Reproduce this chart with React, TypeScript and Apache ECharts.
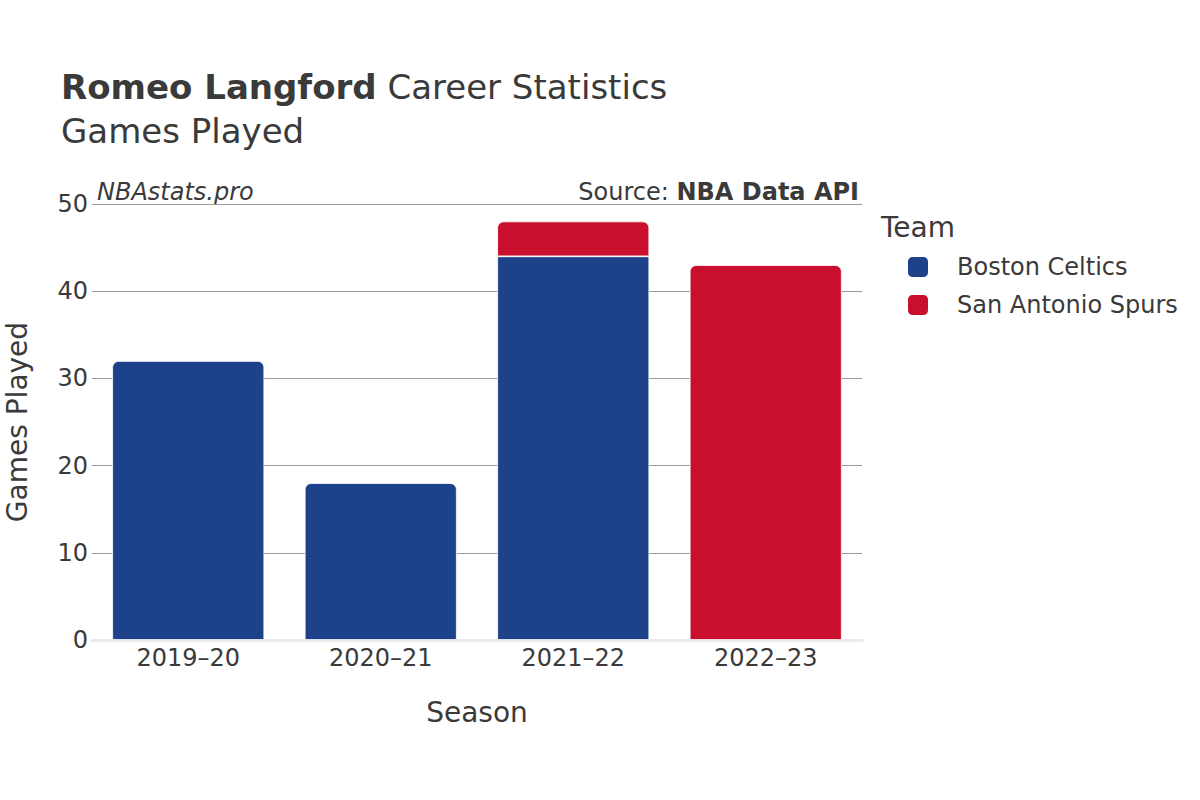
import React, { useEffect, useRef } from "react";
import * as echarts from "echarts";

const seasons = ["2019–20", "2020–21", "2021–22", "2022–23"];
const celtics = [32, 18, 44, null];
const spurs = [null, null, 4, 43];
const yTicks = [0, 10, 20, 30, 40, 50];

const FONT = "DejaVu Sans";
const TXT = "#3a3a3a";

export default function App() {
  const ref = useRef<HTMLDivElement>(null);
  useEffect(() => {
    const chart = echarts.init(ref.current!, undefined, { renderer: "svg" });
    const topIdx = seasons.map((_, i) => (spurs[i] != null ? "spurs" : "celtics"));
    const mk = (vals: (number | null)[], key: string) =>
      vals.map((v, i) =>
        v == null
          ? null
          : {
              value: v,
              itemStyle: { borderRadius: topIdx[i] === key ? [6, 6, 0, 0] : 0 },
            }
      );
    chart.setOption({
      animation: false,
      textStyle: { fontFamily: FONT },
      grid: { left: 92, right: 338, top: 204, bottom: 160, containLabel: false, outerBoundsMode: "none" },
      graphic: [
        {
          type: "text",
          left: 61,
          top: 70,
          style: {
            text: "{b|Romeo Langford}{n| Career Statistics}",
            rich: {
              b: { fontFamily: FONT, fontSize: 34, fontWeight: "bold", fill: TXT },
              n: { fontFamily: FONT, fontSize: 34, fill: TXT },
            },
          },
        },
        {
          type: "text",
          left: 61,
          top: 114,
          style: { text: "Games Played", fontFamily: FONT, fontSize: 34, fill: TXT },
        },
        {
          type: "text",
          left: 97,
          top: 180,
          style: { text: "NBAstats.pro", fontFamily: FONT, fontSize: 24, fontStyle: "italic", fill: TXT },
        },
        {
          type: "text",
          right: 1200 - 859,
          top: 180,
          style: {
            text: "{n|Source: }{b|NBA Data API}",
            rich: {
              n: { fontFamily: FONT, fontSize: 24, fill: TXT },
              b: { fontFamily: FONT, fontSize: 24, fontWeight: "bold", fill: TXT },
            },
          },
        },
        {
          type: "text",
          left: 881,
          top: 213,
          style: { text: "Team", fontFamily: FONT, fontSize: 28, fill: TXT },
        },
      ],
      legend: {
        left: 906,
        top: 255,
        padding: 0,
        orient: "vertical",
        itemWidth: 22,
        itemHeight: 22,
        itemGap: 14,
        icon: "roundRect",
        textStyle: { fontFamily: FONT, fontSize: 24, lineHeight: 22, color: TXT, padding: [0, 0, 0, 23] },
        data: ["Boston Celtics", "San Antonio Spurs"],
      },
      xAxis: {
        type: "category",
        data: seasons,
        name: "Season",
        nameLocation: "middle",
        nameGap: 58,
        nameTextStyle: { fontFamily: FONT, fontSize: 28, color: TXT },
        axisLine: { show: true, lineStyle: { color: "#ebebeb", width: 3 } },
        axisTick: { show: false },
        axisLabel: { fontFamily: FONT, fontSize: 24, color: TXT, margin: 6 },
      },
      yAxis: {
        type: "value",
        min: 0,
        max: 50,
        interval: 10,
        name: "Games Played",
        nameLocation: "middle",
        nameGap: 61,
        nameTextStyle: { fontFamily: FONT, fontSize: 28, color: TXT },
        axisLine: { show: false },
        axisTick: { show: false },
        axisLabel: { fontFamily: FONT, fontSize: 24, color: TXT, margin: 4, formatter: (v: number) => (yTicks.includes(v) ? String(v) : "") },
        splitLine: { lineStyle: { color: "#9a9a9a", width: 1 } },
      },
      series: [
        {
          name: "Boston Celtics",
          type: "bar",
          stack: "gp",
          data: mk(celtics, "celtics"),
          barCategoryGap: "21%",
          itemStyle: { color: "#1d428a", borderColor: "#ffffff", borderWidth: 0.8 },
        },
        {
          name: "San Antonio Spurs",
          type: "bar",
          stack: "gp",
          data: mk(spurs, "spurs"),
          barCategoryGap: "21%",
          itemStyle: { color: "#c8102e", borderColor: "#ffffff", borderWidth: 0.8 },
        },
      ],
    });
    return () => chart.dispose();
  }, []);
  return <div ref={ref} style={{ width: 1200, height: 800, position: "absolute", left: 0, top: 0 }} />;
}
